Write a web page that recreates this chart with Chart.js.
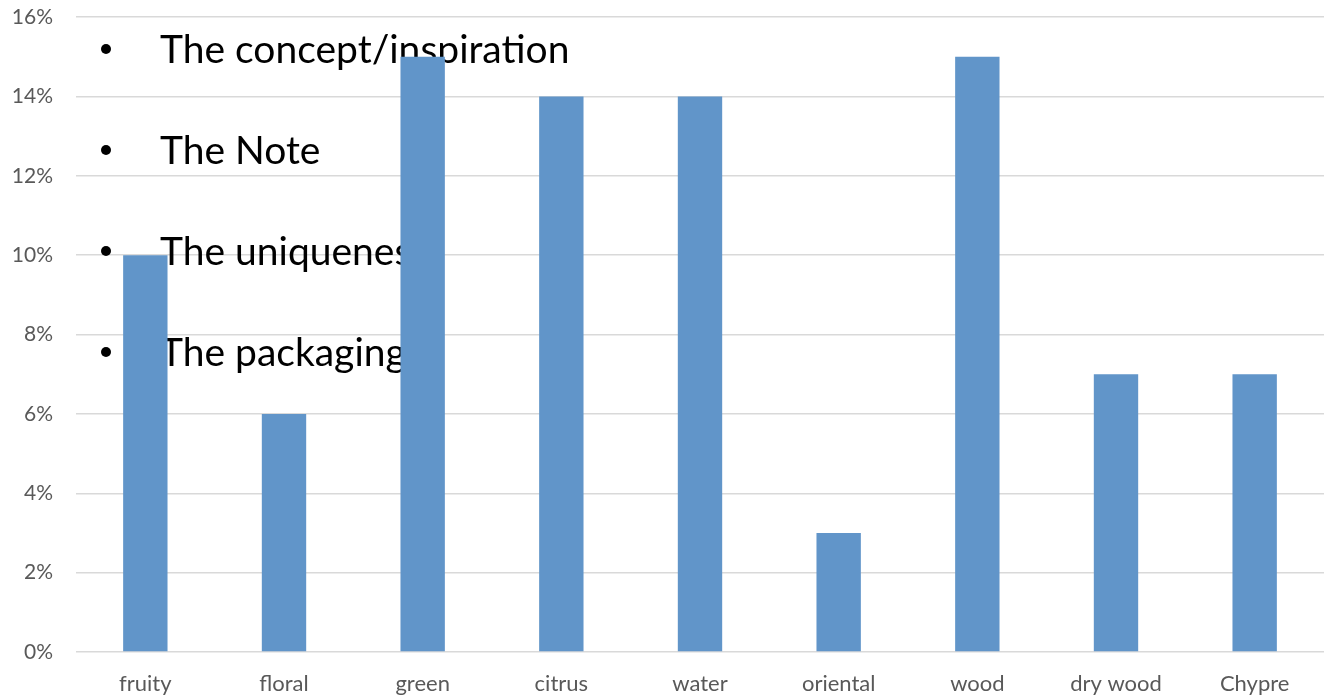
<!DOCTYPE html>
<html>
<head>
<meta charset="utf-8">
<script src="https://cdn.jsdelivr.net/npm/chart.js@4"></script>
<style>
    html, body { margin: 0; padding: 0; background: #fff; }
    #wrap { width: 1325px; height: 697px; position: relative; }
</style>
</head>
<body>
<div id="wrap"><canvas id="scentChart"></canvas></div>
<script>
const categories = ["fruity", "floral", "green", "citrus", "water", "oriental", "wood", "dry wood", "Chypre"];
const shares = [10, 6, 15, 14, 14, 3, 15, 7, 7];
const yTicks = [0, 2, 4, 6, 8, 10, 12, 14, 16];
const bullets = ["The concept/inspiration", "The Note", "The uniqueness", "The packaging"];

const fontFamily = "Lato, 'Open Sans', sans-serif";
const labelColor = "#595959";

// slide text sits behind the bars but over the grid
const bulletText = {
    id: "bulletText",
    beforeDatasetsDraw(chart) {
        const ctx = chart.ctx;
        ctx.save();
        ctx.fillStyle = "#000";
        ctx.textBaseline = "alphabetic";
        ctx.textAlign = "left";
        ctx.font = `39px ${fontFamily}`;
        bullets.forEach((t, i) => {
            const y = 63 + i * 101;
            ctx.beginPath();
            ctx.arc(106, y - 14, 5, 0, Math.PI * 2);
            ctx.fill();
            ctx.fillText(t, 160, y);
        });
        ctx.restore();
    },
};

const ctx = document.getElementById("scentChart").getContext("2d");
new Chart(ctx, {
    type: "bar",
    data: {
        labels: categories,
        datasets: [
            {
                data: shares,
                backgroundColor: "#6195C9",
                borderWidth: 0,
                barPercentage: 0.32,
                categoryPercentage: 1,
            },
        ],
    },
    options: {
        responsive: true,
        maintainAspectRatio: false,
        animation: false,
        layout: {
            padding: { top: 17, right: 1, bottom: 0, left: 0 },
        },
        plugins: {
            legend: { display: false },
            tooltip: { enabled: false },
        },
        scales: {
            x: {
                grid: { display: false, drawTicks: false },
                border: { display: false },
                ticks: {
                    color: labelColor,
                    padding: 19,
                    font: { size: 22, family: fontFamily },
                    maxRotation: 0,
                },
                afterFit: (s) => {
                    s.height = 45;
                    s.paddingLeft = 0;
                    s.paddingRight = 0;
                },
            },
            y: {
                min: 0,
                max: 16,
                afterBuildTicks: (s) => { s.ticks = yTicks.map((v) => ({ value: v })); },
                grid: { color: "#D9D9D9", lineWidth: 1.5, drawTicks: false },
                border: { display: false },
                ticks: {
                    color: labelColor,
                    padding: 23,
                    font: { size: 21, family: fontFamily },
                    callback: (v) => v + "%",
                },
                afterFit: (s) => {
                    s.width = 76;
                    s.paddingTop = 0;
                    s.paddingBottom = 0;
                },
            },
        },
    },
    plugins: [bulletText],
});
</script>
</body>
</html>
